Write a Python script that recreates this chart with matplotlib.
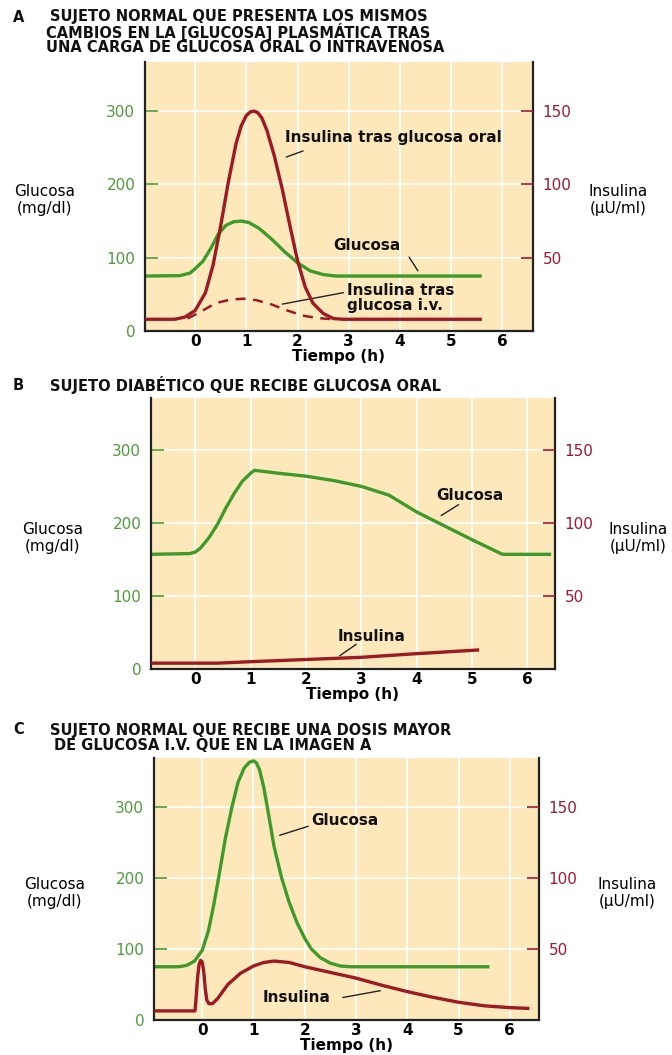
import matplotlib.pyplot as plt

plt.rcParams['font.family'] = ['DejaVu Sans']

# --- A: sujeto normal, glucosa oral / i.v. ---
a_glu_t = [-0.98, -0.3, -0.1, 0.0, 0.15, 0.3, 0.45, 0.6, 0.75, 0.9, 1.05, 1.25,
           1.5, 1.75, 2.0, 2.25, 2.5, 2.75, 5.6]
a_glu = [75, 75.5, 79, 85, 95, 112, 132, 144, 149, 150, 148, 140,
         125, 108, 93, 82, 77, 75, 75]
a_ins_oral_t = [-0.98, -0.4, -0.2, 0.0, 0.2, 0.35, 0.5, 0.65, 0.8, 0.9, 1.0, 1.08,
                1.15, 1.22, 1.3, 1.4, 1.55, 1.7, 1.85, 2.0, 2.15, 2.3, 2.5, 2.7,
                2.9, 5.6]
a_ins_oral = [8, 8, 9.5, 14, 26, 45, 72, 102, 128, 140, 147, 149.5,
              150, 149, 145.5, 137, 119, 97, 72, 48, 30, 19, 12, 8.5,
              8, 8]
a_ins_iv_t = [-0.15, 0.1, 0.4, 0.7, 0.95, 1.2, 1.5, 1.8, 2.1, 2.4, 2.7]
a_ins_iv = [8.5, 13, 19, 21.5, 22, 21, 18, 14, 10.5, 8.8, 8]

# --- B: sujeto diabetico, glucosa oral ---
b_glu_t = [-0.8, -0.1, 0.0, 0.1, 0.25, 0.4, 0.55, 0.7, 0.85, 1.0, 1.07, 1.5,
           2.0, 2.5, 3.0, 3.5, 4.0, 4.5, 5.0, 5.55, 6.4]
b_glu = [157, 158, 160, 166, 180, 198, 220, 240, 257, 268, 272, 268,
         264, 258, 250, 238, 215, 196, 177, 157, 157]
b_ins_t = [-0.8, 0.4, 1.0, 2.0, 3.0, 4.0, 5.1]
b_ins = [4, 4, 5, 6.5, 8, 10.5, 13]

# --- C: sujeto normal, dosis mayor de glucosa i.v. ---
c_glu_t = [-0.94, -0.45, -0.3, -0.15, 0.0, 0.12, 0.22, 0.32, 0.45, 0.58, 0.7, 0.82,
           0.92, 1.0, 1.06, 1.12, 1.2, 1.27, 1.4, 1.55, 1.7, 1.85, 2.0, 2.13, 2.3,
           2.5, 2.7, 2.9, 5.57]
c_glu = [75, 75, 77, 83, 98, 125, 160, 200, 255, 300, 335, 355,
         363, 365, 362, 352, 328, 300, 245, 200, 165, 137, 115, 100, 88,
         80, 76, 75, 75]
c_ins_t = [-0.94, -0.14, -0.12, -0.09, -0.06, -0.03, 0.0, 0.03, 0.06, 0.09, 0.13,
           0.2, 0.3, 0.5, 0.75, 1.0, 1.2, 1.4, 1.7, 2.0, 2.5, 3.0, 3.5, 4.0,
           4.5, 5.0, 5.5, 6.0, 6.35]
c_ins = [6.4, 6.4, 15, 30, 39, 42, 41, 34, 22, 14, 11.5,
         11.5, 15, 25, 33, 38, 40.5, 41.5, 40.5, 37.5, 33.5, 29.5, 24.5, 20,
         16, 12.5, 10, 8.7, 8.2]

x_ticks = [0, 1, 2, 3, 4, 5, 6]
glu_ticks = [0, 100, 200, 300]
ins_ticks = [50, 100, 150]

BG = '#fde8bc'
GREEN = '#3f9a2c'
RED = '#9c1a22'
GREEN_TXT = '#4d9b3a'
RED_TXT = '#a3172f'

W, H = 672, 1055
fig = plt.figure(figsize=(W / 100, H / 100), dpi=100)


def px_axes(left, top, right, bottom):
    return fig.add_axes([left / W, 1 - bottom / H, (right - left) / W, (bottom - top) / H])


def fig_text(x, y, s, **kw):
    fig.text(x / W, 1 - y / H, s, **kw)


def panel(box, xlim, ylim, ylab_y, lx, rx):
    ax = px_axes(*box)
    ax.set_facecolor(BG)
    ax.set_xlim(*xlim)
    ax.set_ylim(0, ylim)
    for t in x_ticks:
        ax.axvline(t, color='white', lw=1.2, zorder=0)
    for g in glu_ticks[1:]:
        ax.axhline(g, color='white', lw=1.2, zorder=0)
    ax.spines['top'].set_visible(False)
    for s in ['left', 'right', 'bottom']:
        ax.spines[s].set_linewidth(1.6)
        ax.spines[s].set_color('#222222')
    ax.set_xticks(x_ticks)
    ax.set_xticklabels([str(t) for t in x_ticks], fontsize=11, fontweight='bold')
    ax.tick_params(axis='x', length=0, pad=2)
    ax.set_yticks(glu_ticks)
    ax.set_yticklabels([str(g) for g in glu_ticks], fontsize=11, color=GREEN_TXT)
    ax.tick_params(axis='y', direction='in', length=9, width=1.2, colors=GREEN_TXT, pad=7)
    ax.set_xlabel('Tiempo (h)', fontsize=11, fontweight='bold', labelpad=0)

    ax2 = ax.twinx()
    ax2.set_ylim(0, ylim / 2)
    ax2.set_yticks(ins_ticks)
    ax2.set_yticklabels([str(i) for i in ins_ticks], fontsize=11, color=RED_TXT)
    ax2.tick_params(axis='y', direction='in', length=9, width=1.2, colors=RED_TXT, pad=7)
    for s in ['top', 'left', 'right', 'bottom']:
        ax2.spines[s].set_visible(False)

    fig_text(lx, ylab_y, 'Glucosa\n(mg/dl)', ha='center', va='center', fontsize=11,
             linespacing=1.1)
    fig_text(rx, ylab_y, 'Insulina\n(µU/ml)', ha='center', va='center', fontsize=11,
             linespacing=1.1)
    return ax, ax2


title_kw = dict(fontsize=10.5, fontweight='bold', va='center', ha='left', color='#111111')
label_kw = dict(fontsize=11, fontweight='bold', color='#111111')
leader_kw = dict(arrowstyle='-', color='#222222', lw=1.0)

# Panel A
fig_text(13, 17, 'A', **title_kw)
fig_text(50, 17, 'SUJETO NORMAL QUE PRESENTA LOS MISMOS', **title_kw)
fig_text(46, 32, 'CAMBIOS EN LA [GLUCOSA] PLASMÁTICA TRAS', **title_kw)
fig_text(46, 47, 'UNA CARGA DE GLUCOSA ORAL O INTRAVENOSA', **title_kw)
ax, ax2 = panel((145, 62, 533, 331), (-0.98, 6.6), 367, 200, 45, 618)
ax.plot(a_glu_t, a_glu, color=GREEN, lw=2.4, solid_capstyle='butt')
ax2.plot(a_ins_oral_t, a_ins_oral, color=RED, lw=2.4, solid_capstyle='butt')
ax2.plot(a_ins_iv_t, a_ins_iv, color=RED, lw=1.8, dashes=(4, 3))
ax.text(1.75, 264, 'Insulina tras glucosa oral', va='center', **label_kw)
ax.annotate('', xy=(1.73, 236), xytext=(2.16, 247), arrowprops=leader_kw)
ax.text(2.7, 116, 'Glucosa', va='center', **label_kw)
ax.annotate('', xy=(4.38, 79), xytext=(4.15, 104), arrowprops=leader_kw)
ax.text(2.97, 45, 'Insulina tras\nglucosa i.v.', va='center', ha='left', linespacing=1.05,
        **label_kw)
ax.annotate('', xy=(1.65, 36), xytext=(2.95, 53), arrowprops=leader_kw)

# Panel B
fig_text(13, 385, 'B', **title_kw)
fig_text(50, 385, 'SUJETO DIABÉTICO QUE RECIBE GLUCOSA ORAL', **title_kw)
ax, ax2 = panel((151, 398, 555, 669), (-0.8, 6.5), 371, 538, 53, 638)
ax.plot(b_glu_t, b_glu, color=GREEN, lw=2.4)
ax2.plot(b_ins_t, b_ins, color=RED, lw=2.4)
ax.text(4.36, 238, 'Glucosa', va='center', **label_kw)
ax.annotate('', xy=(4.4, 208), xytext=(4.8, 227), arrowprops=leader_kw)
ax.text(2.57, 45, 'Insulina', va='center', **label_kw)
ax.annotate('', xy=(2.57, 16), xytext=(2.95, 36), arrowprops=leader_kw)

# Panel C
fig_text(13, 730, 'C', **title_kw)
fig_text(50, 730, 'SUJETO NORMAL QUE RECIBE UNA DOSIS MAYOR', **title_kw)
fig_text(54, 745, 'DE GLUCOSA I.V. QUE EN LA IMAGEN A', **title_kw)
ax, ax2 = panel((154, 758, 539, 1020), (-0.94, 6.57), 369, 893, 55, 627)
ax.plot(c_glu_t, c_glu, color=GREEN, lw=2.4)
ax2.plot(c_ins_t, c_ins, color=RED, lw=2.4)
ax.text(2.12, 281, 'Glucosa', va='center', **label_kw)
ax.annotate('', xy=(1.46, 259), xytext=(2.12, 274), arrowprops=leader_kw)
ax.text(1.17, 31, 'Insulina', va='center', **label_kw)
ax.annotate('', xy=(3.53, 42), xytext=(2.69, 31), arrowprops=leader_kw)

fig.savefig('out.png', dpi=100)
